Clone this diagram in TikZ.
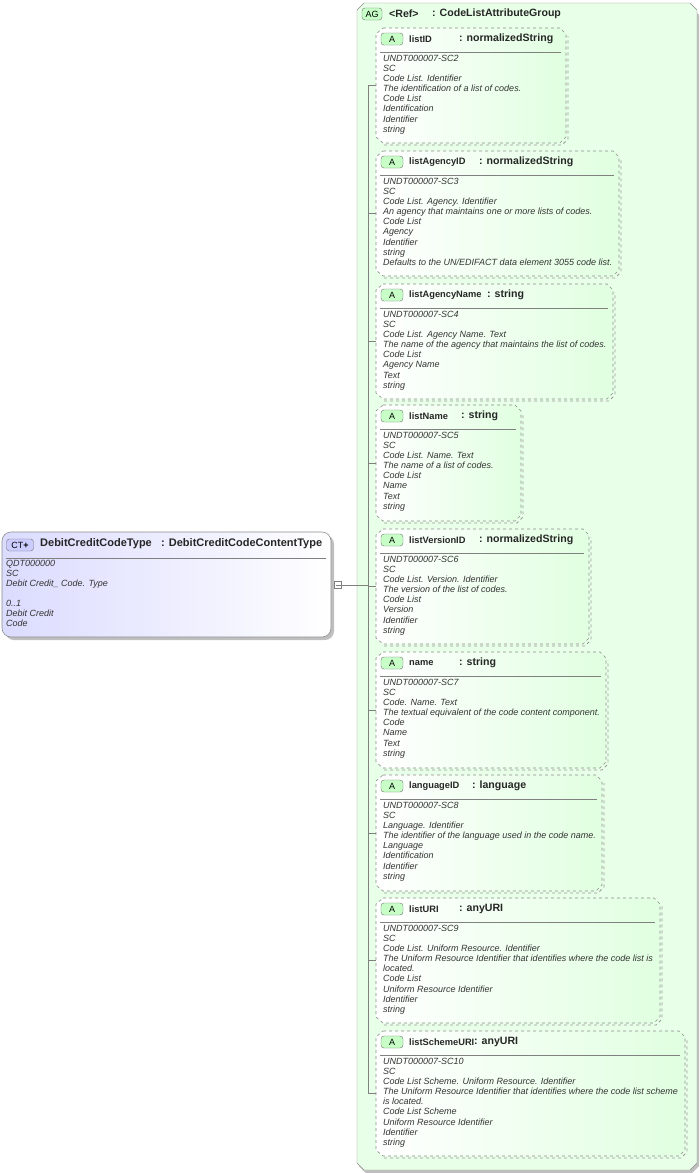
\documentclass[tikz,border=0pt]{standalone}
\usepackage{fontspec}
\setmainfont{Liberation Sans}
\begin{document}
\begin{tikzpicture}[x=1pt,y=-1pt,
  body/.style={anchor=north west,align=left,inner sep=0pt,font=\fontsize{9}{10.1}\selectfont\itshape,text=black!80},
  hdr/.style={anchor=west,inner sep=0pt,font=\fontsize{9.3}{11}\selectfont\bfseries,text=black!85},
  thdr/.style={anchor=west,inner sep=0pt,font=\fontsize{10.6}{11}\selectfont\bfseries,text=black!85},
  badge/.style={draw=black!55,fill=green!22,rounded corners=3pt,font=\fontsize{9}{9}\selectfont,inner sep=1.5pt,minimum width=22pt,minimum height=12pt},
  tick/.style={draw=black!50,line width=0.5pt}]
\useasboundingbox (0,0) rectangle (699,1173);
% AG group
\fill[black!25] (362,8) -- (692,8) -- (699,15) -- (699,1166) -- (692,1173) -- (366,1173) -- (359,1166) -- (359,15) -- cycle;
\draw[draw=black!45,fill=green!9] (364,3) -- (690,3) -- (697,10) -- (697,1163) -- (690,1170) -- (364,1170) -- (357,1163) -- (357,10) -- cycle;
\node[badge,minimum width=20pt] (agb) at (372,14) {AG};
\node[thdr] (agref) at (389,14) {<Ref>};
\node[thdr] (agtype) at (432,14) {: CodeListAttributeGroup};
\newcommand\attrbox[9]{%
 \shade[left color=white,right color=green!12] (383,#3) -- (#2-6,#3) -- (#2,#3+6) -- (#2,#4-6) -- (#2-6,#4) -- (383,#4) -- (376,#4-6) -- (376,#3+6) -- cycle;
 \draw[black!40,dashed,line width=0.8pt] (384,#4+2) -- (#2-4,#4+2) -- (#2+2,#4-4) -- (#2+2,#3+8);
 \draw[black!45,dashed,line width=0.6pt] (383,#3) -- (#2-6,#3) -- (#2,#3+6) -- (#2,#4-6) -- (#2-6,#4) -- (383,#4) -- (376,#4-6) -- (376,#3+6) -- cycle;
 \node[badge] (#1b) at (392,#3+11) {A};
 \node[hdr] (#1n) at (409,#3+11) {#5};
 \node[thdr] (#1t) at (#6,#3+11) {: #7};
 \draw[black!50] (380,#3+24) -- (#2-5,#3+24);
 \node[body] (#1d) at (383,#3+27) {#8};
 \coordinate (#1c) at (376,#9);
 \draw[tick] (368,#9) -- (#1c);
}
\attrbox{a1}{566}{28}{143}{listID}{459}{normalizedString}{UNDT000007-SC2\\SC\\Code List. Identifier\\The identification of a list of codes.\\Code List\\Identification\\Identifier\\string}{85}
\attrbox{a2}{619}{151}{276}{listAgencyID}{479}{normalizedString}{UNDT000007-SC3\\SC\\Code List. Agency. Identifier\\An agency that maintains one or more lists of codes.\\Code List\\Agency\\Identifier\\string\\Defaults to the UN/EDIFACT data element 3055 code list.}{213}
\attrbox{a3}{613}{284}{399}{listAgencyName}{487}{string}{UNDT000007-SC4\\SC\\Code List. Agency Name. Text\\The name of the agency that maintains the list of codes.\\Code List\\Agency Name\\Text\\string}{341}
\attrbox{a4}{521}{405}{521}{listName}{461}{string}{UNDT000007-SC5\\SC\\Code List. Name. Text\\The name of a list of codes.\\Code List\\Name\\Text\\string}{463}
\attrbox{a5}{589}{529}{644}{listVersionID}{479}{normalizedString}{UNDT000007-SC6\\SC\\Code List. Version. Identifier\\The version of the list of codes.\\Code List\\Version\\Identifier\\string}{586}
\attrbox{a6}{606}{652}{768}{name}{459}{string}{UNDT000007-SC7\\SC\\Code. Name. Text\\The textual equivalent of the code content component.\\Code\\Name\\Text\\string}{710}
\attrbox{a7}{602}{775}{891}{languageID}{472}{language}{UNDT000007-SC8\\SC\\Language. Identifier\\The identifier of the language used in the code name.\\Language\\Identification\\Identifier\\string}{833}
\attrbox{a8}{660}{898}{1023}{listURI}{459}{anyURI}{UNDT000007-SC9\\SC\\Code List. Uniform Resource. Identifier\\The Uniform Resource Identifier that identifies where the code list is\\located.\\Code List\\Uniform Resource Identifier\\Identifier\\string}{960}
\attrbox{a9}{685}{1031}{1156}{listSchemeURI}{474}{anyURI}{UNDT000007-SC10\\SC\\Code List Scheme. Uniform Resource. Identifier\\The Uniform Resource Identifier that identifies where the code list scheme\\is located.\\Code List Scheme\\Uniform Resource Identifier\\Identifier\\string}{1093}
\coordinate (vtop) at (368,85);
\coordinate (vbot) at (368,1093);
\draw[tick] (vtop) -- (vbot);
% CT box
\fill[black!25,rounded corners=9pt] (5,535) rectangle (334,640);
\shade[left color=blue!14,right color=white,rounded corners=9pt] (2,532) rectangle (331,637);
\draw[black!45,line width=0.6pt,rounded corners=9pt] (2,532) rectangle (331,637);
\node[badge,fill=blue!20,minimum width=27pt] (ctb) at (20,545) {CT\textbf{+}};
\node[thdr,font=\fontsize{11}{11}\selectfont\bfseries] (ctn) at (40,544) {DebitCreditCodeType};
\node[thdr,font=\fontsize{11}{11}\selectfont\bfseries] (ctt) at (161,544) {: DebitCreditCodeContentType};
\draw[black!50] (6,558) -- (326,558);
\node[body] (ctd) at (6,560) {QDT000000\\SC\\Debit Credit\_ Code. Type\\[10pt]0..1\\Debit Credit\\Code};
\node[draw=black!50,fill=white,minimum size=7pt,inner sep=0pt] (minus) at (338,585) {};
\draw[black!50] (335.5,585) -- (340.5,585);
\coordinate (junc) at (368,585);
\draw[tick] (minus.east) -- (junc);
\end{tikzpicture}
\end{document}
